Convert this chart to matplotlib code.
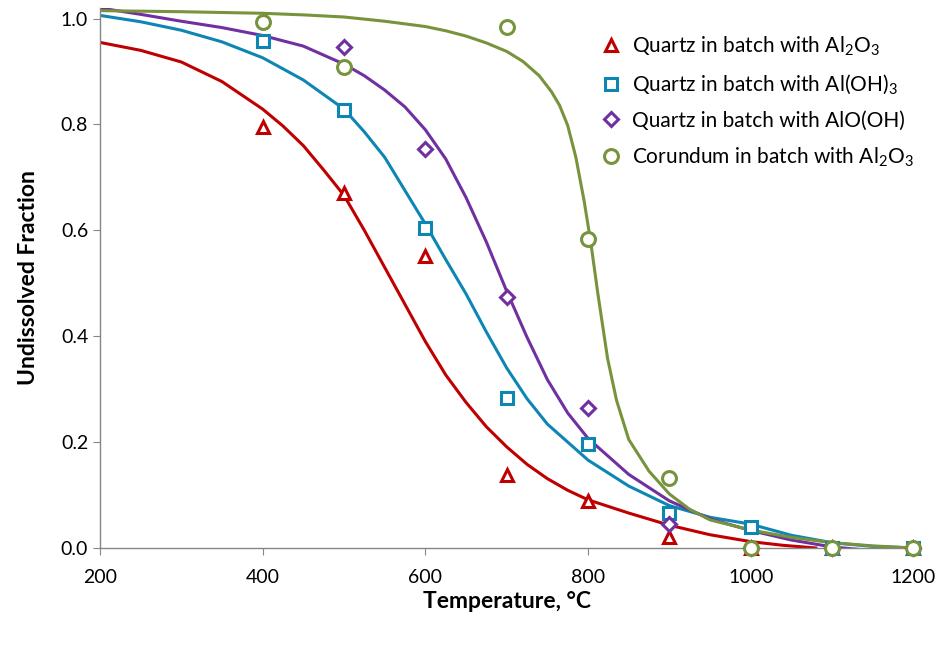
import matplotlib
matplotlib.use("Agg")
import matplotlib.pyplot as plt

# measured points
t_pts = [400, 500, 600, 700, 800, 900, 1000, 1100, 1200]
quartz_al2o3 = [0.796, 0.670, 0.551, 0.137, 0.088, 0.020, 0.0, 0.0, 0.0]
quartz_aloh3 = [0.958, 0.828, 0.604, 0.284, 0.196, 0.066, 0.040, 0.0, 0.0]
t_alooh = [500, 600, 700, 800, 900, 1000, 1100, 1200]
quartz_alooh = [0.946, 0.753, 0.474, 0.264, 0.045, 0.0, 0.0, 0.0]
t_corundum = [400, 500, 700, 800, 900, 1000, 1100, 1200]
corundum_al2o3 = [0.994, 0.908, 0.984, 0.583, 0.132, 0.0, 0.0, 0.0]

# fitted curves
t_fit_red = [200, 250, 300, 350, 400, 425, 450, 475, 500, 525, 550, 575, 600, 625,
             650, 675, 700, 725, 750, 775, 800, 850, 900, 950, 1000, 1040, 1080]
fit_red = [0.955, 0.940, 0.918, 0.881, 0.829, 0.797, 0.760, 0.714, 0.666, 0.600,
           0.530, 0.460, 0.390, 0.327, 0.275, 0.229, 0.191, 0.158, 0.131, 0.109,
           0.091, 0.066, 0.043, 0.025, 0.012, 0.005, 0.0]
t_fit_blue = [200, 250, 300, 350, 400, 450, 500, 525, 550, 575, 600, 625, 650, 675,
              700, 725, 750, 800, 850, 900, 950, 1000, 1050, 1100, 1150, 1200]
fit_blue = [1.006, 0.994, 0.978, 0.956, 0.926, 0.884, 0.829, 0.786, 0.738, 0.675,
            0.612, 0.545, 0.480, 0.408, 0.340, 0.282, 0.234, 0.166, 0.117, 0.080,
            0.058, 0.045, 0.024, 0.010, 0.003, 0.0]
t_fit_purple = [200, 250, 300, 350, 400, 450, 500, 525, 550, 575, 600, 625, 650, 675,
                700, 725, 750, 775, 800, 850, 900, 950, 1000, 1050, 1100, 1135]
fit_purple = [1.020, 1.008, 0.995, 0.983, 0.968, 0.948, 0.914, 0.892, 0.865, 0.833,
              0.790, 0.735, 0.662, 0.578, 0.485, 0.398, 0.318, 0.255, 0.207, 0.139,
              0.089, 0.055, 0.033, 0.015, 0.002, -0.003]
t_fit_green = [200, 300, 400, 450, 500, 550, 600, 625, 650, 675, 700, 720, 740, 755,
               765, 775, 785, 795, 803, 812, 824, 835, 850, 875, 900, 925, 950, 1000,
               1050, 1100, 1150, 1200]
fit_green = [1.015, 1.013, 1.010, 1.007, 1.003, 0.995, 0.985, 0.977, 0.967, 0.954,
             0.938, 0.919, 0.892, 0.862, 0.836, 0.798, 0.738, 0.657, 0.581, 0.481,
             0.358, 0.279, 0.205, 0.145, 0.102, 0.073, 0.053, 0.034, 0.020, 0.010,
             0.004, 0.0]

red = "#C00000"
blue = "#0E86B4"
purple = "#7030A0"
green = "#77933C"

plt.rcParams["font.family"] = ["Lato", "DejaVu Sans"]
plt.rcParams["mathtext.fontset"] = "custom"
plt.rcParams["mathtext.rm"] = "Lato"
plt.rcParams["mathtext.it"] = "Lato"

fig = plt.figure(figsize=(9.45, 6.45), dpi=100)
ax = fig.add_axes([0.1058, 0.1504, 0.8608, 0.8372])

ax.plot(t_fit_red, fit_red, color=red, lw=2.2, zorder=2)
ax.plot(t_fit_blue, fit_blue, color=blue, lw=2.2, zorder=2)
ax.plot(t_fit_purple, fit_purple, color=purple, lw=2.2, zorder=2)
ax.plot(t_fit_green, fit_green, color=green, lw=2.2, zorder=2)

mk = dict(ls="none", mfc="white", mew=2.2, clip_on=False, zorder=3)
ax.plot(t_pts, quartz_al2o3, marker="^", ms=9, color=red,
        label="Quartz in batch with Al$_2$O$_3$", **mk)
ax.plot(t_pts, quartz_aloh3, marker="s", ms=9, color=blue,
        label="Quartz in batch with Al(OH)$_3$", **mk)
ax.plot(t_alooh, quartz_alooh, marker="D", ms=7, color=purple,
        label="Quartz in batch with AlO(OH)", **mk)
ax.plot(t_corundum, corundum_al2o3, marker="o", ms=10, color=green,
        label="Corundum in batch with Al$_2$O$_3$", **mk)

ax.set_xlim(200, 1200)
ax.set_ylim(0, 1.02)
ax.set_xticks(range(200, 1201, 200))
ax.set_yticks([0.0, 0.2, 0.4, 0.6, 0.8, 1.0])
ax.set_yticklabels(["0.0", "0.2", "0.4", "0.6", "0.8", "1.0"])

for s in ["top", "right"]:
    ax.spines[s].set_visible(False)
for s in ["left", "bottom"]:
    ax.spines[s].set_color("#868686")
    ax.spines[s].set_linewidth(1.0)
ax.tick_params(axis="both", colors="#868686", labelcolor="black",
               labelsize=14, length=5, direction="out")
ax.tick_params(axis="x", pad=10)

ax.set_xlabel("Temperature, \u00b0C", fontsize=16.5, fontweight="bold", labelpad=4)
ax.set_ylabel("Undissolved Fraction", fontsize=16.5, fontweight="bold", labelpad=16)

ax.legend(loc="upper left", bbox_to_anchor=(0.605, 0.966), frameon=False,
          fontsize=15, handletextpad=0.5, labelspacing=0.7, handlelength=1.0,
          borderaxespad=0)

fig.savefig("out.png", dpi=100)
